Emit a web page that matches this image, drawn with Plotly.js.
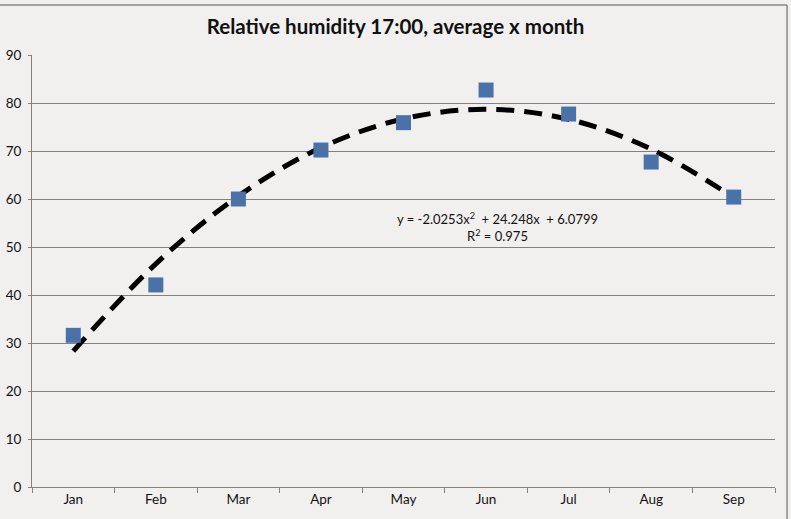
<!DOCTYPE html>
<html>
<head>
<meta charset="utf-8">
<script src="https://cdn.plot.ly/plotly-3.0.1.min.js"></script>
<style>
  body { margin: 0; background: #F2F0EE; }
  #chart { width: 791px; height: 519px; }
</style>
</head>
<body>
<div id="chart"></div>
<script>
// ---- data ----
var months = ['Jan', 'Feb', 'Mar', 'Apr', 'May', 'Jun', 'Jul', 'Aug', 'Sep'];
var humidity = [31.6, 42.1, 60.0, 70.2, 75.9, 82.7, 77.7, 67.7, 60.4];
// polynomial trendline as drawn (order 2)
var trend = [28.3, 46.5, 60.6, 70.7, 76.7, 78.7, 76.6, 70.4, 60.3];
var yTicks = [0, 10, 20, 30, 40, 50, 60, 70, 80, 90];

var gridColor = '#86807A';
var font = 'Lato, "Open Sans", sans-serif';

var points = {
  x: months,
  y: humidity,
  type: 'scatter',
  mode: 'markers',
  marker: { symbol: 'square', size: 15, color: '#4A72A8' },
  hoverinfo: 'x+y'
};

var trendLine = {
  x: months,
  y: trend,
  type: 'scatter',
  mode: 'lines',
  line: { color: '#000000', width: 5, dash: '18px,10px', shape: 'spline' },
  hoverinfo: 'skip'
};

var layout = {
  width: 791,
  height: 519,
  margin: { l: 32, r: 16, t: 55, b: 32 },
  paper_bgcolor: '#F2F0EE',
  plot_bgcolor: '#F2F0EE',
  showlegend: false,
  font: { family: font, size: 13.5, color: '#111111' },
  title: {
    text: '<b>Relative humidity 17:00, average x month</b>',
    font: { family: font, size: 20.5, color: '#111111' },
    x: 0.5,
    xanchor: 'center',
    y: 0.948,
    yanchor: 'middle'
  },
  xaxis: {
    type: 'category',
    range: [-0.5, 8.5],
    tickson: 'boundaries',
    ticks: 'outside',
    ticklen: 5,
    tickcolor: gridColor,
    showline: true,
    linecolor: gridColor,
    linewidth: 1,
    showgrid: false,
    zeroline: false,
    fixedrange: true
  },
  yaxis: {
    range: [0, 90],
    tickvals: yTicks,
    ticks: 'outside',
    ticklen: 3,
    tickcolor: gridColor,
    ticklabelstandoff: 4,
    showline: true,
    linecolor: gridColor,
    linewidth: 1,
    showgrid: true,
    gridcolor: gridColor,
    gridwidth: 1,
    zeroline: false,
    fixedrange: true
  },
  annotations: [{
    xref: 'paper', yref: 'paper',
    x: 0.627, y: 0.603,
    xanchor: 'center', yanchor: 'middle',
    showarrow: false,
    align: 'center',
    text: 'y = -2.0253x<sup>2</sup>  + 24.248x  + 6.0799<br>R<sup>2</sup> = 0.975',
    font: { family: font, size: 13, color: '#111111' }
  }],
  shapes: [
    // outer chart border (top and right edges visible)
    { type: 'line', xref: 'paper', yref: 'paper', x0: -0.1, x1: 1.0162, y0: 1.1157, y1: 1.1157,
      line: { color: '#8C8782', width: 1.5 } },
    { type: 'line', xref: 'paper', yref: 'paper', x0: 1.0162, x1: 1.0162, y0: -0.1, y1: 1.1157,
      line: { color: '#8C8782', width: 1.5 } }
  ]
};

Plotly.newPlot('chart', [trendLine, points], layout, { displayModeBar: false, staticPlot: true });
</script>
</body>
</html>
